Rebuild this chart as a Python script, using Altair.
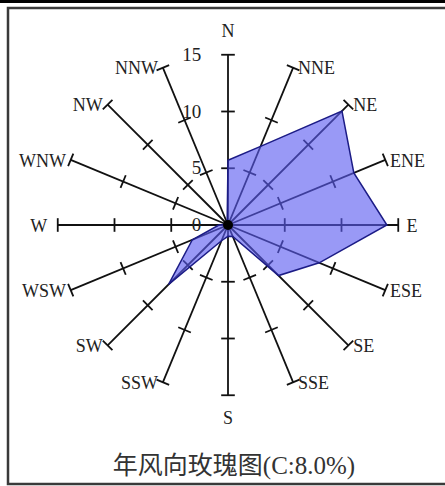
import math
import altair as alt
import pandas as pd

# ---- data ----
directions = ["N", "NNE", "NE", "ENE", "E", "ESE", "SE", "SSE",
              "S", "SSW", "SW", "WSW", "W", "WNW", "NW", "NNW"]
frequency = [5.7, 7.5, 14.2, 12.0, 14.0, 8.7, 6.3, 1.1,
             1.0, 1.5, 7.4, 3.4, 0.8, 0.2, 0.2, 0.2]
tick_values = [5, 10, 15]
tick_labels = ["0", "5", "10", "15"]
title_text = "年风向玫瑰图(C:8.0%)"

# ---- layout ----
W, H = 445, 486
CX, CY = 228, 225
PPU = 11.35
R_MAX = 15
HALF_TICK = 0.6

xdom = [-CX / PPU, (W - CX) / PPU]
ydom = [-(H - CY) / PPU, CY / PPU]
xs = alt.Scale(domain=xdom, nice=False, zero=False)
ys = alt.Scale(domain=ydom, nice=False, zero=False)

def ang(i):
    return math.radians(i * 22.5)

spokes = pd.DataFrame([
    {"x": 0.0, "y": 0.0,
     "x2": R_MAX * math.sin(ang(i)), "y2": R_MAX * math.cos(ang(i))}
    for i, d in enumerate(directions)
])

ticks = []
for i, d in enumerate(directions):
    s, c = math.sin(ang(i)), math.cos(ang(i))
    for r in tick_values:
        px, py = r * s, r * c
        ticks.append({"x": px - HALF_TICK * c, "y": py + HALF_TICK * s,
                      "x2": px + HALF_TICK * c, "y2": py - HALF_TICK * s})
ticks = pd.DataFrame(ticks)

poly = pd.DataFrame([
    {"idx": i, "x": f * math.sin(ang(i)), "y": f * math.cos(ang(i))}
    for i, f in enumerate(frequency)
])

lab_rows = []
for i, d in enumerate(directions):
    s, c = math.sin(ang(i)), math.cos(ang(i))
    ex, ey = R_MAX * s, R_MAX * c
    if abs(s) < 1e-6:
        side = "c"
        ly = ey + (2.0 if c > 0 else -2.05)
        lx = ex
    elif s > 0:
        side = "r"
        lx, ly = ex + 0.42, ey - 0.15
    else:
        side = "l"
        lx, ly = ex - 0.42, ey - 0.15
    if d == "E":
        lx += 0.3
    if d == "W":
        lx -= 0.5
    lab_rows.append({"label": d, "x": lx, "y": ly, "side": side})
labels = pd.DataFrame(lab_rows)

nums = pd.DataFrame([
    {"label": t, "x": -2.35, "y": float(v)}
    for t, v in zip(tick_labels, [0] + tick_values)
])

center = pd.DataFrame([{"x": 0.0, "y": 0.0}])
one = pd.DataFrame([{"a": 1}])

FONT = "Liberation Serif"
TXT = "#222222"

frame = alt.Chart(one).mark_rect(fill="white", stroke="#3a3a3a", strokeWidth=2.5).encode(
    x=alt.value(8), x2=alt.value(460), y=alt.value(8), y2=alt.value(484))
topband = alt.Chart(one).mark_rect(fill="black").encode(
    x=alt.value(0), x2=alt.value(W), y=alt.value(0), y2=alt.value(3))

spoke_layer = alt.Chart(spokes).mark_rule(color="#111111", strokeWidth=1.8).encode(
    x=alt.X("x:Q", scale=xs, axis=None), y=alt.Y("y:Q", scale=ys, axis=None),
    x2="x2:Q", y2="y2:Q")
tick_layer = alt.Chart(ticks).mark_rule(color="#111111", strokeWidth=1.8).encode(
    x=alt.X("x:Q", scale=xs, axis=None), y=alt.Y("y:Q", scale=ys, axis=None),
    x2="x2:Q", y2="y2:Q")

poly_layer = alt.Chart(poly).mark_line(
    interpolate="linear-closed", fill="#5a5af0", fillOpacity=0.62,
    stroke="#1c1c86", strokeWidth=1.5).encode(
    x=alt.X("x:Q", scale=xs, axis=None), y=alt.Y("y:Q", scale=ys, axis=None),
    order="idx:Q")

dot = alt.Chart(center).mark_point(filled=True, color="black", size=100, opacity=1).encode(
    x=alt.X("x:Q", scale=xs, axis=None), y=alt.Y("y:Q", scale=ys, axis=None))

def text_layer(side, align):
    return alt.Chart(labels).transform_filter(alt.datum.side == side).mark_text(
        font=FONT, fontSize=18, color=TXT, align=align, baseline="middle").encode(
        x=alt.X("x:Q", scale=xs, axis=None), y=alt.Y("y:Q", scale=ys, axis=None),
        text="label:N")

num_layer = alt.Chart(nums).mark_text(
    font=FONT, fontSize=19, color=TXT, align="right", baseline="middle").encode(
    x=alt.X("x:Q", scale=xs, axis=None), y=alt.Y("y:Q", scale=ys, axis=None),
    text="label:N")

title_layer = alt.Chart(one).mark_text(
    text=title_text, font="Liberation Serif, Noto Sans CJK SC", fontSize=25,
    color="#333333", align="center", baseline="middle").encode(
    x=alt.value(234), y=alt.value(466))

chart = alt.layer(
    frame, topband, spoke_layer, tick_layer, poly_layer, dot,
    text_layer("c", "center"), text_layer("r", "left"), text_layer("l", "right"),
    num_layer, title_layer
).properties(
    width=W, height=H, padding=0, autosize=alt.AutoSizeParams(type="none")
).configure_view(stroke=None)

chart.save("out.html", embed_options={"renderer": "svg", "actions": False})
